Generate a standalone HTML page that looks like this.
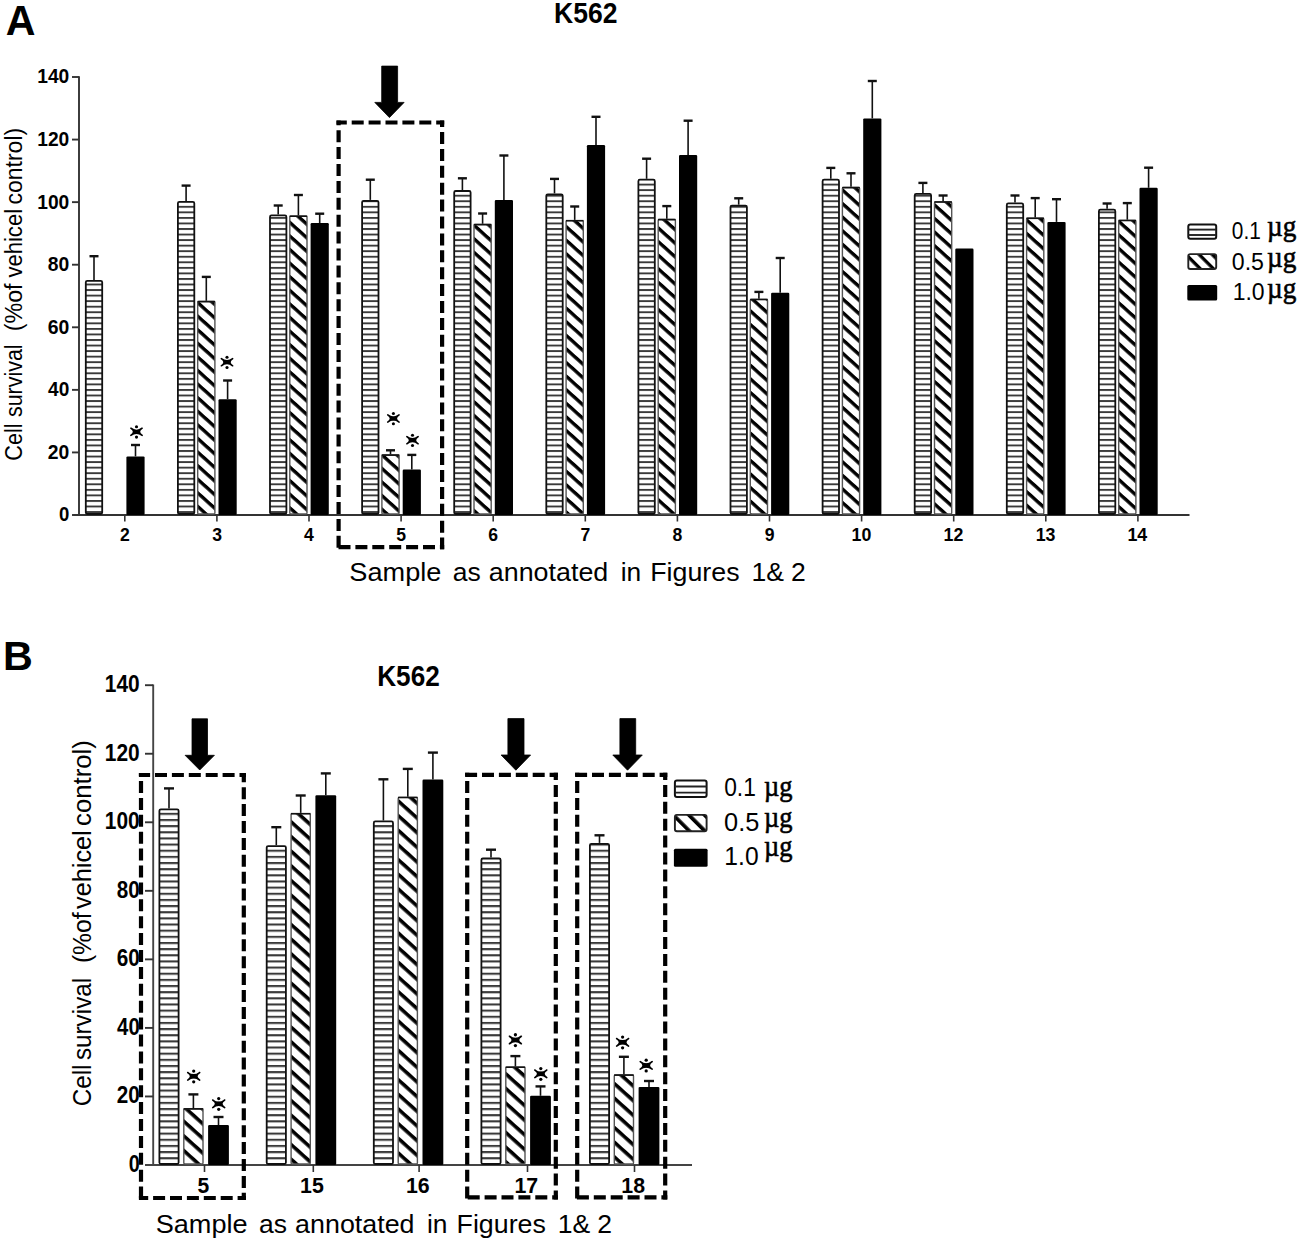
<!DOCTYPE html><html><head><meta charset="utf-8"><style>html,body{margin:0;padding:0;background:#fff;overflow:hidden;}svg{display:block;}text{font-family:"Liberation Sans",sans-serif;fill:#000;white-space:pre;}</style></head><body>
<svg width="1300" height="1243" viewBox="0 0 1300 1243">
<defs>
<pattern id="sA" patternUnits="userSpaceOnUse" width="40" height="5.55" y="0.5"><rect width="40" height="5.55" fill="#fff"/><rect y="0" width="40" height="1.9" fill="#3a3a3a"/></pattern>
<pattern id="sB" patternUnits="userSpaceOnUse" width="40" height="6.15" y="1"><rect width="40" height="6.15" fill="#fff"/><rect y="0" width="40" height="2.1" fill="#3a3a3a"/></pattern>
<pattern id="hA" patternUnits="userSpaceOnUse" width="40" height="10.1" patternTransform="rotate(42)"><rect width="40" height="10.1" fill="#fff"/><rect y="0" width="40" height="3.4" fill="#000"/></pattern>
<pattern id="hB" patternUnits="userSpaceOnUse" width="40" height="10.9" patternTransform="rotate(42)"><rect width="40" height="10.9" fill="#fff"/><rect y="0" width="40" height="3.6" fill="#000"/></pattern>
<pattern id="hLA" patternUnits="userSpaceOnUse" width="60" height="9.3" patternTransform="rotate(45)"><rect width="60" height="9.3" fill="#fff"/><rect y="0.0" width="60" height="3.3" fill="#000"/></pattern>
<pattern id="hLB" patternUnits="userSpaceOnUse" width="60" height="11" patternTransform="rotate(45)"><rect width="60" height="11" fill="#fff"/><rect y="-0.7" width="60" height="3.7" fill="#000"/><rect y="10.3" width="60" height="3.7" fill="#000"/></pattern>
</defs>
<rect width="1300" height="1243" fill="#fff"/>
<text x="5.78" y="35.30" font-size="42" font-weight="bold" textLength="29.74" lengthAdjust="spacingAndGlyphs">A</text>
<text x="554.08" y="23.00" font-size="29.5" font-weight="bold" textLength="63.38" lengthAdjust="spacingAndGlyphs">K562</text>
<line x1="79.00" y1="76.20" x2="79.00" y2="515.80" stroke="#333" stroke-width="1.9" />
<line x1="72.00" y1="515.00" x2="79.00" y2="515.00" stroke="#333" stroke-width="1.9" />
<text x="58.95" y="521.40" font-size="21" font-weight="bold" textLength="10.32" lengthAdjust="spacingAndGlyphs">0</text>
<line x1="72.00" y1="452.43" x2="79.00" y2="452.43" stroke="#333" stroke-width="1.9" />
<text x="47.82" y="458.83" font-size="21" font-weight="bold" textLength="21.48" lengthAdjust="spacingAndGlyphs">20</text>
<line x1="72.00" y1="389.86" x2="79.00" y2="389.86" stroke="#333" stroke-width="1.9" />
<text x="48.11" y="396.26" font-size="21" font-weight="bold" textLength="21.17" lengthAdjust="spacingAndGlyphs">40</text>
<line x1="72.00" y1="327.29" x2="79.00" y2="327.29" stroke="#333" stroke-width="1.9" />
<text x="47.72" y="333.69" font-size="21" font-weight="bold" textLength="21.58" lengthAdjust="spacingAndGlyphs">60</text>
<line x1="72.00" y1="264.71" x2="79.00" y2="264.71" stroke="#333" stroke-width="1.9" />
<text x="47.82" y="271.11" font-size="21" font-weight="bold" textLength="21.48" lengthAdjust="spacingAndGlyphs">80</text>
<line x1="72.00" y1="202.14" x2="79.00" y2="202.14" stroke="#333" stroke-width="1.9" />
<text x="37.25" y="208.54" font-size="21" font-weight="bold" textLength="32.05" lengthAdjust="spacingAndGlyphs">100</text>
<line x1="72.00" y1="139.57" x2="79.00" y2="139.57" stroke="#333" stroke-width="1.9" />
<text x="37.25" y="145.97" font-size="21" font-weight="bold" textLength="32.05" lengthAdjust="spacingAndGlyphs">120</text>
<line x1="72.00" y1="77.00" x2="79.00" y2="77.00" stroke="#333" stroke-width="1.9" />
<text x="37.25" y="83.40" font-size="21" font-weight="bold" textLength="32.05" lengthAdjust="spacingAndGlyphs">140</text>
<line x1="73.50" y1="515.00" x2="1189.50" y2="515.00" stroke="#333" stroke-width="1.9" />
<line x1="124.80" y1="515.00" x2="124.80" y2="521.50" stroke="#333" stroke-width="1.6" />
<text x="119.96" y="540.50" font-size="18" font-weight="bold" textLength="9.78" lengthAdjust="spacingAndGlyphs">2</text>
<line x1="216.90" y1="515.00" x2="216.90" y2="521.50" stroke="#333" stroke-width="1.6" />
<text x="212.15" y="540.50" font-size="18" font-weight="bold" textLength="9.79" lengthAdjust="spacingAndGlyphs">3</text>
<line x1="309.00" y1="515.00" x2="309.00" y2="521.50" stroke="#333" stroke-width="1.6" />
<text x="303.98" y="540.50" font-size="18" font-weight="bold" textLength="9.80" lengthAdjust="spacingAndGlyphs">4</text>
<line x1="401.10" y1="515.00" x2="401.10" y2="521.50" stroke="#333" stroke-width="1.6" />
<text x="396.17" y="540.50" font-size="18" font-weight="bold" textLength="9.79" lengthAdjust="spacingAndGlyphs">5</text>
<line x1="493.20" y1="515.00" x2="493.20" y2="521.50" stroke="#333" stroke-width="1.6" />
<text x="488.32" y="540.50" font-size="18" font-weight="bold" textLength="9.78" lengthAdjust="spacingAndGlyphs">6</text>
<line x1="585.30" y1="515.00" x2="585.30" y2="521.50" stroke="#333" stroke-width="1.6" />
<text x="580.42" y="540.50" font-size="18" font-weight="bold" textLength="9.78" lengthAdjust="spacingAndGlyphs">7</text>
<line x1="677.40" y1="515.00" x2="677.40" y2="521.50" stroke="#333" stroke-width="1.6" />
<text x="672.47" y="540.50" font-size="18" font-weight="bold" textLength="9.79" lengthAdjust="spacingAndGlyphs">8</text>
<line x1="769.50" y1="515.00" x2="769.50" y2="521.50" stroke="#333" stroke-width="1.6" />
<text x="764.66" y="540.50" font-size="18" font-weight="bold" textLength="9.78" lengthAdjust="spacingAndGlyphs">9</text>
<line x1="861.60" y1="515.00" x2="861.60" y2="521.50" stroke="#333" stroke-width="1.6" />
<text x="851.49" y="540.50" font-size="18" font-weight="bold" textLength="19.80" lengthAdjust="spacingAndGlyphs">10</text>
<line x1="953.70" y1="515.00" x2="953.70" y2="521.50" stroke="#333" stroke-width="1.6" />
<text x="943.59" y="540.50" font-size="18" font-weight="bold" textLength="19.80" lengthAdjust="spacingAndGlyphs">12</text>
<line x1="1045.80" y1="515.00" x2="1045.80" y2="521.50" stroke="#333" stroke-width="1.6" />
<text x="1035.69" y="540.50" font-size="18" font-weight="bold" textLength="19.80" lengthAdjust="spacingAndGlyphs">13</text>
<line x1="1137.90" y1="515.00" x2="1137.90" y2="521.50" stroke="#333" stroke-width="1.6" />
<text x="1127.47" y="540.50" font-size="18" font-weight="bold" textLength="19.81" lengthAdjust="spacingAndGlyphs">14</text>
<rect x="85.80" y="280.80" width="16.40" height="233.20" fill="url(#sA)" stroke="#111" stroke-width="1.8" rx="1.5"/>
<line x1="94.00" y1="279.90" x2="94.00" y2="255.90" stroke="#111" stroke-width="1.6" />
<line x1="89.50" y1="256.20" x2="98.50" y2="256.20" stroke="#111" stroke-width="2.4" />
<rect x="126.40" y="456.40" width="18.20" height="58.60" fill="#000" rx="1.2"/>
<line x1="135.50" y1="456.40" x2="135.50" y2="444.70" stroke="#111" stroke-width="1.6" />
<line x1="131.00" y1="445.00" x2="140.00" y2="445.00" stroke="#111" stroke-width="2.4" />
<rect x="177.90" y="201.80" width="16.40" height="312.20" fill="url(#sA)" stroke="#111" stroke-width="1.8" rx="1.5"/>
<line x1="186.10" y1="200.90" x2="186.10" y2="185.30" stroke="#111" stroke-width="1.6" />
<line x1="181.60" y1="185.60" x2="190.60" y2="185.60" stroke="#111" stroke-width="2.4" />
<rect x="197.70" y="301.50" width="17.20" height="212.50" fill="url(#hA)" stroke="#555" stroke-width="1.4" rx="1"/>
<line x1="197.50" y1="301.60" x2="215.10" y2="301.60" stroke="#111" stroke-width="1.6"/>
<line x1="206.30" y1="300.80" x2="206.30" y2="276.60" stroke="#111" stroke-width="1.6" />
<line x1="201.80" y1="276.90" x2="210.80" y2="276.90" stroke="#111" stroke-width="2.4" />
<rect x="218.50" y="399.20" width="18.20" height="115.80" fill="#000" rx="1.2"/>
<line x1="227.60" y1="399.20" x2="227.60" y2="380.20" stroke="#111" stroke-width="1.6" />
<line x1="223.10" y1="380.50" x2="232.10" y2="380.50" stroke="#111" stroke-width="2.4" />
<rect x="270.00" y="215.40" width="16.40" height="298.60" fill="url(#sA)" stroke="#111" stroke-width="1.8" rx="1.5"/>
<line x1="278.20" y1="214.50" x2="278.20" y2="205.20" stroke="#111" stroke-width="1.6" />
<line x1="273.70" y1="205.50" x2="282.70" y2="205.50" stroke="#111" stroke-width="2.4" />
<rect x="289.80" y="216.10" width="17.20" height="297.90" fill="url(#hA)" stroke="#555" stroke-width="1.4" rx="1"/>
<line x1="289.60" y1="216.20" x2="307.20" y2="216.20" stroke="#111" stroke-width="1.6"/>
<line x1="298.40" y1="215.40" x2="298.40" y2="194.70" stroke="#111" stroke-width="1.6" />
<line x1="293.90" y1="195.00" x2="302.90" y2="195.00" stroke="#111" stroke-width="2.4" />
<rect x="310.60" y="223.00" width="18.20" height="292.00" fill="#000" rx="1.2"/>
<line x1="319.70" y1="223.00" x2="319.70" y2="213.40" stroke="#111" stroke-width="1.6" />
<line x1="315.20" y1="213.70" x2="324.20" y2="213.70" stroke="#111" stroke-width="2.4" />
<rect x="362.10" y="200.80" width="16.40" height="313.20" fill="url(#sA)" stroke="#111" stroke-width="1.8" rx="1.5"/>
<line x1="370.30" y1="199.90" x2="370.30" y2="179.40" stroke="#111" stroke-width="1.6" />
<line x1="365.80" y1="179.70" x2="374.80" y2="179.70" stroke="#111" stroke-width="2.4" />
<rect x="381.90" y="455.00" width="17.20" height="59.00" fill="url(#hA)" stroke="#555" stroke-width="1.4" rx="1"/>
<line x1="381.70" y1="455.10" x2="399.30" y2="455.10" stroke="#111" stroke-width="1.6"/>
<line x1="390.50" y1="454.30" x2="390.50" y2="450.00" stroke="#111" stroke-width="1.6" />
<line x1="386.00" y1="450.30" x2="395.00" y2="450.30" stroke="#111" stroke-width="2.4" />
<rect x="402.70" y="469.50" width="18.20" height="45.50" fill="#000" rx="1.2"/>
<line x1="411.80" y1="469.50" x2="411.80" y2="454.60" stroke="#111" stroke-width="1.6" />
<line x1="407.30" y1="454.90" x2="416.30" y2="454.90" stroke="#111" stroke-width="2.4" />
<rect x="454.20" y="191.00" width="16.40" height="323.00" fill="url(#sA)" stroke="#111" stroke-width="1.8" rx="1.5"/>
<line x1="462.40" y1="190.10" x2="462.40" y2="178.00" stroke="#111" stroke-width="1.6" />
<line x1="457.90" y1="178.30" x2="466.90" y2="178.30" stroke="#111" stroke-width="2.4" />
<rect x="474.00" y="224.50" width="17.20" height="289.50" fill="url(#hA)" stroke="#555" stroke-width="1.4" rx="1"/>
<line x1="473.80" y1="224.60" x2="491.40" y2="224.60" stroke="#111" stroke-width="1.6"/>
<line x1="482.60" y1="223.80" x2="482.60" y2="213.20" stroke="#111" stroke-width="1.6" />
<line x1="478.10" y1="213.50" x2="487.10" y2="213.50" stroke="#111" stroke-width="2.4" />
<rect x="494.80" y="199.90" width="18.20" height="315.10" fill="#000" rx="1.2"/>
<line x1="503.90" y1="199.90" x2="503.90" y2="155.20" stroke="#111" stroke-width="1.6" />
<line x1="499.40" y1="155.50" x2="508.40" y2="155.50" stroke="#111" stroke-width="2.4" />
<rect x="546.30" y="194.30" width="16.40" height="319.70" fill="url(#sA)" stroke="#111" stroke-width="1.8" rx="1.5"/>
<line x1="554.50" y1="193.40" x2="554.50" y2="178.60" stroke="#111" stroke-width="1.6" />
<line x1="550.00" y1="178.90" x2="559.00" y2="178.90" stroke="#111" stroke-width="2.4" />
<rect x="566.10" y="220.60" width="17.20" height="293.40" fill="url(#hA)" stroke="#555" stroke-width="1.4" rx="1"/>
<line x1="565.90" y1="220.70" x2="583.50" y2="220.70" stroke="#111" stroke-width="1.6"/>
<line x1="574.70" y1="219.90" x2="574.70" y2="206.20" stroke="#111" stroke-width="1.6" />
<line x1="570.20" y1="206.50" x2="579.20" y2="206.50" stroke="#111" stroke-width="2.4" />
<rect x="586.90" y="145.10" width="18.20" height="369.90" fill="#000" rx="1.2"/>
<line x1="596.00" y1="145.10" x2="596.00" y2="116.50" stroke="#111" stroke-width="1.6" />
<line x1="591.50" y1="116.80" x2="600.50" y2="116.80" stroke="#111" stroke-width="2.4" />
<rect x="638.40" y="179.70" width="16.40" height="334.30" fill="url(#sA)" stroke="#111" stroke-width="1.8" rx="1.5"/>
<line x1="646.60" y1="178.80" x2="646.60" y2="158.40" stroke="#111" stroke-width="1.6" />
<line x1="642.10" y1="158.70" x2="651.10" y2="158.70" stroke="#111" stroke-width="2.4" />
<rect x="658.20" y="219.50" width="17.20" height="294.50" fill="url(#hA)" stroke="#555" stroke-width="1.4" rx="1"/>
<line x1="658.00" y1="219.60" x2="675.60" y2="219.60" stroke="#111" stroke-width="1.6"/>
<line x1="666.80" y1="218.80" x2="666.80" y2="205.80" stroke="#111" stroke-width="1.6" />
<line x1="662.30" y1="206.10" x2="671.30" y2="206.10" stroke="#111" stroke-width="2.4" />
<rect x="679.00" y="154.90" width="18.20" height="360.10" fill="#000" rx="1.2"/>
<line x1="688.10" y1="154.90" x2="688.10" y2="120.40" stroke="#111" stroke-width="1.6" />
<line x1="683.60" y1="120.70" x2="692.60" y2="120.70" stroke="#111" stroke-width="2.4" />
<rect x="730.50" y="205.60" width="16.40" height="308.40" fill="url(#sA)" stroke="#111" stroke-width="1.8" rx="1.5"/>
<line x1="738.70" y1="204.70" x2="738.70" y2="198.00" stroke="#111" stroke-width="1.6" />
<line x1="734.20" y1="198.30" x2="743.20" y2="198.30" stroke="#111" stroke-width="2.4" />
<rect x="750.30" y="299.40" width="17.20" height="214.60" fill="url(#hA)" stroke="#555" stroke-width="1.4" rx="1"/>
<line x1="750.10" y1="299.50" x2="767.70" y2="299.50" stroke="#111" stroke-width="1.6"/>
<line x1="758.90" y1="298.70" x2="758.90" y2="291.60" stroke="#111" stroke-width="1.6" />
<line x1="754.40" y1="291.90" x2="763.40" y2="291.90" stroke="#111" stroke-width="2.4" />
<rect x="771.10" y="292.80" width="18.20" height="222.20" fill="#000" rx="1.2"/>
<line x1="780.20" y1="292.80" x2="780.20" y2="257.70" stroke="#111" stroke-width="1.6" />
<line x1="775.70" y1="258.00" x2="784.70" y2="258.00" stroke="#111" stroke-width="2.4" />
<rect x="822.60" y="179.70" width="16.40" height="334.30" fill="url(#sA)" stroke="#111" stroke-width="1.8" rx="1.5"/>
<line x1="830.80" y1="178.80" x2="830.80" y2="167.60" stroke="#111" stroke-width="1.6" />
<line x1="826.30" y1="167.90" x2="835.30" y2="167.90" stroke="#111" stroke-width="2.4" />
<rect x="842.40" y="187.50" width="17.20" height="326.50" fill="url(#hA)" stroke="#555" stroke-width="1.4" rx="1"/>
<line x1="842.20" y1="187.60" x2="859.80" y2="187.60" stroke="#111" stroke-width="1.6"/>
<line x1="851.00" y1="186.80" x2="851.00" y2="173.00" stroke="#111" stroke-width="1.6" />
<line x1="846.50" y1="173.30" x2="855.50" y2="173.30" stroke="#111" stroke-width="2.4" />
<rect x="863.20" y="118.40" width="18.20" height="396.60" fill="#000" rx="1.2"/>
<line x1="872.30" y1="118.40" x2="872.30" y2="80.70" stroke="#111" stroke-width="1.6" />
<line x1="867.80" y1="81.00" x2="876.80" y2="81.00" stroke="#111" stroke-width="2.4" />
<rect x="914.70" y="193.90" width="16.40" height="320.10" fill="url(#sA)" stroke="#111" stroke-width="1.8" rx="1.5"/>
<line x1="922.90" y1="193.00" x2="922.90" y2="182.60" stroke="#111" stroke-width="1.6" />
<line x1="918.40" y1="182.90" x2="927.40" y2="182.90" stroke="#111" stroke-width="2.4" />
<rect x="934.50" y="201.90" width="17.20" height="312.10" fill="url(#hA)" stroke="#555" stroke-width="1.4" rx="1"/>
<line x1="934.30" y1="202.00" x2="951.90" y2="202.00" stroke="#111" stroke-width="1.6"/>
<line x1="943.10" y1="201.20" x2="943.10" y2="195.20" stroke="#111" stroke-width="1.6" />
<line x1="938.60" y1="195.50" x2="947.60" y2="195.50" stroke="#111" stroke-width="2.4" />
<rect x="955.30" y="248.60" width="18.20" height="266.40" fill="#000" rx="1.2"/>
<rect x="1006.80" y="203.40" width="16.40" height="310.60" fill="url(#sA)" stroke="#111" stroke-width="1.8" rx="1.5"/>
<line x1="1015.00" y1="202.50" x2="1015.00" y2="195.20" stroke="#111" stroke-width="1.6" />
<line x1="1010.50" y1="195.50" x2="1019.50" y2="195.50" stroke="#111" stroke-width="2.4" />
<rect x="1026.60" y="218.20" width="17.20" height="295.80" fill="url(#hA)" stroke="#555" stroke-width="1.4" rx="1"/>
<line x1="1026.40" y1="218.30" x2="1044.00" y2="218.30" stroke="#111" stroke-width="1.6"/>
<line x1="1035.20" y1="217.50" x2="1035.20" y2="197.80" stroke="#111" stroke-width="1.6" />
<line x1="1030.70" y1="198.10" x2="1039.70" y2="198.10" stroke="#111" stroke-width="2.4" />
<rect x="1047.40" y="221.90" width="18.20" height="293.10" fill="#000" rx="1.2"/>
<line x1="1056.50" y1="221.90" x2="1056.50" y2="198.90" stroke="#111" stroke-width="1.6" />
<line x1="1052.00" y1="199.20" x2="1061.00" y2="199.20" stroke="#111" stroke-width="2.4" />
<rect x="1098.90" y="209.70" width="16.40" height="304.30" fill="url(#sA)" stroke="#111" stroke-width="1.8" rx="1.5"/>
<line x1="1107.10" y1="208.80" x2="1107.10" y2="203.20" stroke="#111" stroke-width="1.6" />
<line x1="1102.60" y1="203.50" x2="1111.60" y2="203.50" stroke="#111" stroke-width="2.4" />
<rect x="1118.70" y="220.40" width="17.20" height="293.60" fill="url(#hA)" stroke="#555" stroke-width="1.4" rx="1"/>
<line x1="1118.50" y1="220.50" x2="1136.10" y2="220.50" stroke="#111" stroke-width="1.6"/>
<line x1="1127.30" y1="219.70" x2="1127.30" y2="202.80" stroke="#111" stroke-width="1.6" />
<line x1="1122.80" y1="203.10" x2="1131.80" y2="203.10" stroke="#111" stroke-width="2.4" />
<rect x="1139.50" y="187.80" width="18.20" height="327.20" fill="#000" rx="1.2"/>
<line x1="1148.60" y1="187.80" x2="1148.60" y2="167.40" stroke="#111" stroke-width="1.6" />
<line x1="1144.10" y1="167.70" x2="1153.10" y2="167.70" stroke="#111" stroke-width="2.4" />
<path d="M130.80,428.20 Q136.50,432.70 142.20,428.20 Q136.70,431.80 142.20,435.40 Q136.50,430.90 130.80,435.40 Q136.30,431.80 130.80,428.20 Z" fill="#000" stroke="#000" stroke-width="1.50" stroke-linejoin="round"/>
<ellipse cx="136.50" cy="431.80" rx="3.00" ry="1.90" fill="#000"/>
<circle cx="136.50" cy="426.80" r="1.55" fill="#000"/>
<circle cx="136.50" cy="437.10" r="1.55" fill="#000"/>
<path d="M221.30,358.60 Q227.00,363.10 232.70,358.60 Q227.20,362.20 232.70,365.80 Q227.00,361.30 221.30,365.80 Q226.80,362.20 221.30,358.60 Z" fill="#000" stroke="#000" stroke-width="1.50" stroke-linejoin="round"/>
<ellipse cx="227.00" cy="362.20" rx="3.00" ry="1.90" fill="#000"/>
<circle cx="227.00" cy="357.20" r="1.55" fill="#000"/>
<circle cx="227.00" cy="367.50" r="1.55" fill="#000"/>
<path d="M387.70,414.90 Q393.40,419.40 399.10,414.90 Q393.60,418.50 399.10,422.10 Q393.40,417.60 387.70,422.10 Q393.20,418.50 387.70,414.90 Z" fill="#000" stroke="#000" stroke-width="1.50" stroke-linejoin="round"/>
<ellipse cx="393.40" cy="418.50" rx="3.00" ry="1.90" fill="#000"/>
<circle cx="393.40" cy="413.50" r="1.55" fill="#000"/>
<circle cx="393.40" cy="423.80" r="1.55" fill="#000"/>
<path d="M406.80,436.60 Q412.50,441.10 418.20,436.60 Q412.70,440.20 418.20,443.80 Q412.50,439.30 406.80,443.80 Q412.30,440.20 406.80,436.60 Z" fill="#000" stroke="#000" stroke-width="1.50" stroke-linejoin="round"/>
<ellipse cx="412.50" cy="440.20" rx="3.00" ry="1.90" fill="#000"/>
<circle cx="412.50" cy="435.20" r="1.55" fill="#000"/>
<circle cx="412.50" cy="445.50" r="1.55" fill="#000"/>
<line x1="336.50" y1="122.50" x2="444.20" y2="122.50" stroke="#000" stroke-width="4.2" stroke-dasharray="12.0 4.9" stroke-dashoffset="1.70"/>
<line x1="442.10" y1="120.40" x2="442.10" y2="549.30" stroke="#000" stroke-width="4.2" stroke-dasharray="12.0 4.9" stroke-dashoffset="5.30"/>
<line x1="336.50" y1="547.20" x2="444.20" y2="547.20" stroke="#000" stroke-width="4.2" stroke-dasharray="12.0 4.9" stroke-dashoffset="14.90"/>
<line x1="338.60" y1="120.40" x2="338.60" y2="549.30" stroke="#000" stroke-width="4.2" stroke-dasharray="12.0 4.9" stroke-dashoffset="7.10"/>
<path d="M381.70,66.10 L397.60,66.10 L397.60,102.40 L404.10,102.40 L389.45,117.60 L374.80,102.40 L381.70,102.40 Z" fill="#000" stroke="#000" stroke-width="0.8" stroke-linejoin="round"/>
<rect x="1188.30" y="224.40" width="27.90" height="14.40" fill="#fff" stroke="#111" stroke-width="2" rx="2"/>
<line x1="1188.30" y1="229.60" x2="1216.20" y2="229.60" stroke="#222" stroke-width="1.9" />
<line x1="1188.30" y1="235.00" x2="1216.20" y2="235.00" stroke="#222" stroke-width="1.9" />
<rect x="1188.30" y="254.10" width="27.90" height="14.90" fill="url(#hLA)" stroke="#222" stroke-width="1.9" rx="2"/>
<rect x="1187.30" y="285.00" width="29.90" height="15.50" fill="#000" rx="1.5"/>
<text x="1231.87" y="238.50" font-size="24" font-weight="normal" textLength="28.99" lengthAdjust="spacingAndGlyphs">0.1</text>
<text x="1231.79" y="270.30" font-size="24" font-weight="normal" textLength="32.16" lengthAdjust="spacingAndGlyphs">0.5</text>
<text x="1232.68" y="300.00" font-size="24" font-weight="normal" textLength="31.96" lengthAdjust="spacingAndGlyphs">1.0</text>
<text x="1267.08" y="235.80" font-size="29.5" font-weight="normal" textLength="29.33" lengthAdjust="spacingAndGlyphs" style="font-family:&quot;Liberation Serif&quot;,serif" stroke="#000" stroke-width="0.6">µg</text>
<text x="1267.08" y="267.00" font-size="29.5" font-weight="normal" textLength="29.33" lengthAdjust="spacingAndGlyphs" style="font-family:&quot;Liberation Serif&quot;,serif" stroke="#000" stroke-width="0.6">µg</text>
<text x="1267.08" y="298.20" font-size="29.5" font-weight="normal" textLength="29.33" lengthAdjust="spacingAndGlyphs" style="font-family:&quot;Liberation Serif&quot;,serif" stroke="#000" stroke-width="0.6">µg</text>
<text x="349.38" y="580.80" font-size="26" font-weight="normal" textLength="91.94" lengthAdjust="spacingAndGlyphs">Sample</text>
<text x="452.84" y="580.80" font-size="26" font-weight="normal" textLength="27.99" lengthAdjust="spacingAndGlyphs">as</text>
<text x="488.83" y="580.80" font-size="26" font-weight="normal" textLength="119.42" lengthAdjust="spacingAndGlyphs">annotated</text>
<text x="620.69" y="580.80" font-size="26" font-weight="normal" textLength="20.53" lengthAdjust="spacingAndGlyphs">in</text>
<text x="650.26" y="580.80" font-size="26" font-weight="normal" textLength="89.28" lengthAdjust="spacingAndGlyphs">Figures</text>
<text x="751.41" y="580.80" font-size="26" font-weight="normal" textLength="32.51" lengthAdjust="spacingAndGlyphs">1&amp;</text>
<text x="791.07" y="580.80" font-size="26" font-weight="normal" textLength="14.75" lengthAdjust="spacingAndGlyphs">2</text>
<text transform="translate(21.80,460.68) rotate(-90)" font-size="23" font-weight="normal" textLength="37.22" lengthAdjust="spacingAndGlyphs">Cell</text>
<text transform="translate(21.80,417.04) rotate(-90)" font-size="23" font-weight="normal" textLength="72.67" lengthAdjust="spacingAndGlyphs">survival</text>
<text transform="translate(21.80,331.30) rotate(-90)" font-size="23" font-weight="normal" textLength="47.85" lengthAdjust="spacingAndGlyphs">(%of</text>
<text transform="translate(21.80,277.60) rotate(-90)" font-size="23" font-weight="normal" textLength="68.67" lengthAdjust="spacingAndGlyphs">vehicel</text>
<text transform="translate(21.80,204.62) rotate(-90)" font-size="23" font-weight="normal" textLength="76.86" lengthAdjust="spacingAndGlyphs">control)</text>
<text x="2.92" y="670.30" font-size="40" font-weight="bold" textLength="29.83" lengthAdjust="spacingAndGlyphs">B</text>
<text x="377.20" y="686.40" font-size="29.5" font-weight="bold" textLength="62.55" lengthAdjust="spacingAndGlyphs">K562</text>
<line x1="153.20" y1="684.40" x2="153.20" y2="1165.80" stroke="#444" stroke-width="1.9" />
<line x1="145.00" y1="1165.00" x2="153.20" y2="1165.00" stroke="#333" stroke-width="1.9" />
<text x="128.71" y="1171.90" font-size="23.2" font-weight="bold" textLength="11.01" lengthAdjust="spacingAndGlyphs">0</text>
<line x1="145.00" y1="1096.46" x2="153.20" y2="1096.46" stroke="#333" stroke-width="1.9" />
<text x="116.78" y="1103.36" font-size="23.2" font-weight="bold" textLength="22.97" lengthAdjust="spacingAndGlyphs">20</text>
<line x1="145.00" y1="1027.91" x2="153.20" y2="1027.91" stroke="#333" stroke-width="1.9" />
<text x="117.09" y="1034.81" font-size="23.2" font-weight="bold" textLength="22.64" lengthAdjust="spacingAndGlyphs">40</text>
<line x1="145.00" y1="959.37" x2="153.20" y2="959.37" stroke="#333" stroke-width="1.9" />
<text x="116.67" y="966.27" font-size="23.2" font-weight="bold" textLength="23.08" lengthAdjust="spacingAndGlyphs">60</text>
<line x1="145.00" y1="890.83" x2="153.20" y2="890.83" stroke="#333" stroke-width="1.9" />
<text x="116.78" y="897.73" font-size="23.2" font-weight="bold" textLength="22.97" lengthAdjust="spacingAndGlyphs">80</text>
<line x1="145.00" y1="822.29" x2="153.20" y2="822.29" stroke="#333" stroke-width="1.9" />
<text x="104.84" y="829.19" font-size="23.2" font-weight="bold" textLength="34.91" lengthAdjust="spacingAndGlyphs">100</text>
<line x1="145.00" y1="753.74" x2="153.20" y2="753.74" stroke="#333" stroke-width="1.9" />
<text x="104.84" y="760.64" font-size="23.2" font-weight="bold" textLength="34.91" lengthAdjust="spacingAndGlyphs">120</text>
<line x1="145.00" y1="685.20" x2="153.20" y2="685.20" stroke="#333" stroke-width="1.9" />
<text x="104.84" y="692.10" font-size="23.2" font-weight="bold" textLength="34.91" lengthAdjust="spacingAndGlyphs">140</text>
<line x1="145.00" y1="1165.00" x2="692.00" y2="1165.00" stroke="#444" stroke-width="1.9" />
<line x1="204.50" y1="1165.00" x2="204.50" y2="1172.00" stroke="#333" stroke-width="1.6" />
<text x="197.59" y="1193.10" font-size="21.5" font-weight="bold" textLength="11.73" lengthAdjust="spacingAndGlyphs">5</text>
<line x1="313.30" y1="1165.00" x2="313.30" y2="1172.00" stroke="#333" stroke-width="1.6" />
<text x="300.09" y="1193.10" font-size="21.5" font-weight="bold" textLength="23.70" lengthAdjust="spacingAndGlyphs">15</text>
<line x1="419.10" y1="1165.00" x2="419.10" y2="1172.00" stroke="#333" stroke-width="1.6" />
<text x="406.00" y="1193.10" font-size="21.5" font-weight="bold" textLength="23.70" lengthAdjust="spacingAndGlyphs">16</text>
<line x1="527.50" y1="1165.00" x2="527.50" y2="1172.00" stroke="#333" stroke-width="1.6" />
<text x="514.45" y="1193.10" font-size="21.5" font-weight="bold" textLength="23.69" lengthAdjust="spacingAndGlyphs">17</text>
<line x1="634.50" y1="1165.00" x2="634.50" y2="1172.00" stroke="#333" stroke-width="1.6" />
<text x="621.29" y="1193.10" font-size="21.5" font-weight="bold" textLength="23.70" lengthAdjust="spacingAndGlyphs">18</text>
<rect x="159.40" y="809.30" width="19.20" height="354.70" fill="url(#sB)" stroke="#111" stroke-width="1.8" rx="1.5"/>
<line x1="169.00" y1="808.40" x2="169.00" y2="788.10" stroke="#111" stroke-width="1.6" />
<line x1="164.00" y1="788.40" x2="174.00" y2="788.40" stroke="#111" stroke-width="2.4" />
<rect x="183.80" y="1108.80" width="19.20" height="55.20" fill="url(#hB)" stroke="#555" stroke-width="1.4" rx="1"/>
<line x1="183.60" y1="1108.90" x2="203.20" y2="1108.90" stroke="#111" stroke-width="1.6"/>
<line x1="193.40" y1="1108.10" x2="193.40" y2="1094.10" stroke="#111" stroke-width="1.6" />
<line x1="188.40" y1="1094.40" x2="198.40" y2="1094.40" stroke="#111" stroke-width="2.4" />
<rect x="208.10" y="1125.00" width="20.80" height="40.00" fill="#000" rx="1.2"/>
<line x1="218.50" y1="1125.00" x2="218.50" y2="1116.70" stroke="#111" stroke-width="1.6" />
<line x1="213.50" y1="1117.00" x2="223.50" y2="1117.00" stroke="#111" stroke-width="2.4" />
<rect x="266.70" y="846.10" width="19.20" height="317.90" fill="url(#sB)" stroke="#111" stroke-width="1.8" rx="1.5"/>
<line x1="276.30" y1="845.20" x2="276.30" y2="826.90" stroke="#111" stroke-width="1.6" />
<line x1="271.30" y1="827.20" x2="281.30" y2="827.20" stroke="#111" stroke-width="2.4" />
<rect x="291.10" y="813.60" width="19.20" height="350.40" fill="url(#hB)" stroke="#555" stroke-width="1.4" rx="1"/>
<line x1="290.90" y1="813.70" x2="310.50" y2="813.70" stroke="#111" stroke-width="1.6"/>
<line x1="300.70" y1="812.90" x2="300.70" y2="795.20" stroke="#111" stroke-width="1.6" />
<line x1="295.70" y1="795.50" x2="305.70" y2="795.50" stroke="#111" stroke-width="2.4" />
<rect x="315.40" y="795.20" width="20.80" height="369.80" fill="#000" rx="1.2"/>
<line x1="325.80" y1="795.20" x2="325.80" y2="773.10" stroke="#111" stroke-width="1.6" />
<line x1="320.80" y1="773.40" x2="330.80" y2="773.40" stroke="#111" stroke-width="2.4" />
<rect x="373.80" y="821.40" width="19.20" height="342.60" fill="url(#sB)" stroke="#111" stroke-width="1.8" rx="1.5"/>
<line x1="383.40" y1="820.50" x2="383.40" y2="779.00" stroke="#111" stroke-width="1.6" />
<line x1="378.40" y1="779.30" x2="388.40" y2="779.30" stroke="#111" stroke-width="2.4" />
<rect x="398.20" y="797.40" width="19.20" height="366.60" fill="url(#hB)" stroke="#555" stroke-width="1.4" rx="1"/>
<line x1="398.00" y1="797.50" x2="417.60" y2="797.50" stroke="#111" stroke-width="1.6"/>
<line x1="407.80" y1="796.70" x2="407.80" y2="768.60" stroke="#111" stroke-width="1.6" />
<line x1="402.80" y1="768.90" x2="412.80" y2="768.90" stroke="#111" stroke-width="2.4" />
<rect x="422.50" y="779.50" width="20.80" height="385.50" fill="#000" rx="1.2"/>
<line x1="432.90" y1="779.50" x2="432.90" y2="752.30" stroke="#111" stroke-width="1.6" />
<line x1="427.90" y1="752.60" x2="437.90" y2="752.60" stroke="#111" stroke-width="2.4" />
<rect x="481.40" y="858.50" width="19.20" height="305.50" fill="url(#sB)" stroke="#111" stroke-width="1.8" rx="1.5"/>
<line x1="491.00" y1="857.60" x2="491.00" y2="849.40" stroke="#111" stroke-width="1.6" />
<line x1="486.00" y1="849.70" x2="496.00" y2="849.70" stroke="#111" stroke-width="2.4" />
<rect x="505.80" y="1067.10" width="19.20" height="96.90" fill="url(#hB)" stroke="#555" stroke-width="1.4" rx="1"/>
<line x1="505.60" y1="1067.20" x2="525.20" y2="1067.20" stroke="#111" stroke-width="1.6"/>
<line x1="515.40" y1="1066.40" x2="515.40" y2="1055.80" stroke="#111" stroke-width="1.6" />
<line x1="510.40" y1="1056.10" x2="520.40" y2="1056.10" stroke="#111" stroke-width="2.4" />
<rect x="530.10" y="1095.80" width="20.80" height="69.20" fill="#000" rx="1.2"/>
<line x1="540.50" y1="1095.80" x2="540.50" y2="1086.10" stroke="#111" stroke-width="1.6" />
<line x1="535.50" y1="1086.40" x2="545.50" y2="1086.40" stroke="#111" stroke-width="2.4" />
<rect x="589.90" y="843.80" width="19.20" height="320.20" fill="url(#sB)" stroke="#111" stroke-width="1.8" rx="1.5"/>
<line x1="599.50" y1="842.90" x2="599.50" y2="835.00" stroke="#111" stroke-width="1.6" />
<line x1="594.50" y1="835.30" x2="604.50" y2="835.30" stroke="#111" stroke-width="2.4" />
<rect x="614.30" y="1075.00" width="19.20" height="89.00" fill="url(#hB)" stroke="#555" stroke-width="1.4" rx="1"/>
<line x1="614.10" y1="1075.10" x2="633.70" y2="1075.10" stroke="#111" stroke-width="1.6"/>
<line x1="623.90" y1="1074.30" x2="623.90" y2="1056.50" stroke="#111" stroke-width="1.6" />
<line x1="618.90" y1="1056.80" x2="628.90" y2="1056.80" stroke="#111" stroke-width="2.4" />
<rect x="638.60" y="1086.90" width="20.80" height="78.10" fill="#000" rx="1.2"/>
<line x1="649.00" y1="1086.90" x2="649.00" y2="1080.70" stroke="#111" stroke-width="1.6" />
<line x1="644.00" y1="1081.00" x2="654.00" y2="1081.00" stroke="#111" stroke-width="2.4" />
<path d="M187.71,1072.52 Q193.70,1077.24 199.69,1072.52 Q193.91,1076.30 199.69,1080.08 Q193.70,1075.36 187.71,1080.08 Q193.49,1076.30 187.71,1072.52 Z" fill="#000" stroke="#000" stroke-width="1.58" stroke-linejoin="round"/>
<ellipse cx="193.70" cy="1076.30" rx="3.15" ry="1.99" fill="#000"/>
<circle cx="193.70" cy="1071.05" r="1.63" fill="#000"/>
<circle cx="193.70" cy="1081.87" r="1.63" fill="#000"/>
<path d="M212.71,1100.02 Q218.70,1104.74 224.69,1100.02 Q218.91,1103.80 224.69,1107.58 Q218.70,1102.86 212.71,1107.58 Q218.49,1103.80 212.71,1100.02 Z" fill="#000" stroke="#000" stroke-width="1.58" stroke-linejoin="round"/>
<ellipse cx="218.70" cy="1103.80" rx="3.15" ry="1.99" fill="#000"/>
<circle cx="218.70" cy="1098.55" r="1.63" fill="#000"/>
<circle cx="218.70" cy="1109.37" r="1.63" fill="#000"/>
<path d="M509.41,1036.22 Q515.40,1040.94 521.38,1036.22 Q515.61,1040.00 521.38,1043.78 Q515.40,1039.06 509.41,1043.78 Q515.19,1040.00 509.41,1036.22 Z" fill="#000" stroke="#000" stroke-width="1.58" stroke-linejoin="round"/>
<ellipse cx="515.40" cy="1040.00" rx="3.15" ry="1.99" fill="#000"/>
<circle cx="515.40" cy="1034.75" r="1.63" fill="#000"/>
<circle cx="515.40" cy="1045.57" r="1.63" fill="#000"/>
<path d="M534.81,1070.02 Q540.80,1074.74 546.78,1070.02 Q541.01,1073.80 546.78,1077.58 Q540.80,1072.86 534.81,1077.58 Q540.59,1073.80 534.81,1070.02 Z" fill="#000" stroke="#000" stroke-width="1.58" stroke-linejoin="round"/>
<ellipse cx="540.80" cy="1073.80" rx="3.15" ry="1.99" fill="#000"/>
<circle cx="540.80" cy="1068.55" r="1.63" fill="#000"/>
<circle cx="540.80" cy="1079.37" r="1.63" fill="#000"/>
<path d="M616.62,1038.52 Q622.60,1043.24 628.59,1038.52 Q622.81,1042.30 628.59,1046.08 Q622.60,1041.36 616.62,1046.08 Q622.39,1042.30 616.62,1038.52 Z" fill="#000" stroke="#000" stroke-width="1.58" stroke-linejoin="round"/>
<ellipse cx="622.60" cy="1042.30" rx="3.15" ry="1.99" fill="#000"/>
<circle cx="622.60" cy="1037.05" r="1.63" fill="#000"/>
<circle cx="622.60" cy="1047.87" r="1.63" fill="#000"/>
<path d="M640.22,1061.62 Q646.20,1066.35 652.19,1061.62 Q646.41,1065.40 652.19,1069.18 Q646.20,1064.46 640.22,1069.18 Q645.99,1065.40 640.22,1061.62 Z" fill="#000" stroke="#000" stroke-width="1.58" stroke-linejoin="round"/>
<ellipse cx="646.20" cy="1065.40" rx="3.15" ry="1.99" fill="#000"/>
<circle cx="646.20" cy="1060.15" r="1.63" fill="#000"/>
<circle cx="646.20" cy="1070.97" r="1.63" fill="#000"/>
<line x1="138.90" y1="775.00" x2="245.90" y2="775.00" stroke="#000" stroke-width="4.2" stroke-dasharray="12.0 4.9" stroke-dashoffset="0.80"/>
<line x1="243.80" y1="772.90" x2="243.80" y2="1200.10" stroke="#000" stroke-width="4.2" stroke-dasharray="12.0 4.9" stroke-dashoffset="2.60"/>
<line x1="138.90" y1="1198.00" x2="245.90" y2="1198.00" stroke="#000" stroke-width="4.2" stroke-dasharray="12.0 4.9" stroke-dashoffset="2.70"/>
<line x1="141.00" y1="772.90" x2="141.00" y2="1200.10" stroke="#000" stroke-width="4.2" stroke-dasharray="12.0 4.9" stroke-dashoffset="8.80"/>
<line x1="465.10" y1="774.80" x2="557.90" y2="774.80" stroke="#000" stroke-width="4.2" stroke-dasharray="12.0 4.9" stroke-dashoffset="16.90"/>
<line x1="555.80" y1="772.70" x2="555.80" y2="1199.50" stroke="#000" stroke-width="4.2" stroke-dasharray="12.0 4.9" stroke-dashoffset="4.70"/>
<line x1="465.10" y1="1197.40" x2="557.90" y2="1197.40" stroke="#000" stroke-width="4.2" stroke-dasharray="12.0 4.9" stroke-dashoffset="14.30"/>
<line x1="467.20" y1="772.70" x2="467.20" y2="1199.50" stroke="#000" stroke-width="4.2" stroke-dasharray="12.0 4.9" stroke-dashoffset="8.60"/>
<line x1="575.10" y1="774.80" x2="667.30" y2="774.80" stroke="#000" stroke-width="4.2" stroke-dasharray="12.0 4.9" stroke-dashoffset="0.00"/>
<line x1="665.20" y1="772.70" x2="665.20" y2="1199.50" stroke="#000" stroke-width="4.2" stroke-dasharray="12.0 4.9" stroke-dashoffset="4.70"/>
<line x1="575.10" y1="1197.40" x2="667.30" y2="1197.40" stroke="#000" stroke-width="4.2" stroke-dasharray="12.0 4.9" stroke-dashoffset="15.10"/>
<line x1="577.20" y1="772.70" x2="577.20" y2="1199.50" stroke="#000" stroke-width="4.2" stroke-dasharray="12.0 4.9" stroke-dashoffset="8.60"/>
<path d="M192.00,718.80 L207.50,718.80 L207.50,755.30 L214.40,755.30 L199.75,770.00 L185.10,755.30 L192.00,755.30 Z" fill="#000" stroke="#000" stroke-width="0.8" stroke-linejoin="round"/>
<path d="M507.90,718.60 L524.00,718.60 L524.00,755.00 L530.60,755.00 L515.85,770.20 L501.10,755.00 L507.90,755.00 Z" fill="#000" stroke="#000" stroke-width="0.8" stroke-linejoin="round"/>
<path d="M619.90,718.60 L635.70,718.60 L635.70,755.00 L642.30,755.00 L627.55,770.20 L612.80,755.00 L619.90,755.00 Z" fill="#000" stroke="#000" stroke-width="0.8" stroke-linejoin="round"/>
<rect x="674.90" y="780.40" width="31.70" height="16.60" fill="#fff" stroke="#111" stroke-width="2" rx="2"/>
<line x1="674.90" y1="786.50" x2="706.60" y2="786.50" stroke="#222" stroke-width="1.9" />
<line x1="674.90" y1="792.60" x2="706.60" y2="792.60" stroke="#222" stroke-width="1.9" />
<rect x="674.90" y="814.90" width="31.70" height="16.40" fill="url(#hLB)" stroke="#222" stroke-width="1.9" rx="2"/>
<rect x="673.90" y="848.80" width="33.70" height="17.90" fill="#000" rx="1.5"/>
<text x="724.20" y="796.40" font-size="25.5" font-weight="normal" textLength="31.65" lengthAdjust="spacingAndGlyphs">0.1</text>
<text x="724.11" y="830.50" font-size="25.5" font-weight="normal" textLength="35.23" lengthAdjust="spacingAndGlyphs">0.5</text>
<text x="724.35" y="864.50" font-size="25.5" font-weight="normal" textLength="34.24" lengthAdjust="spacingAndGlyphs">1.0</text>
<text x="763.91" y="795.80" font-size="29.5" font-weight="normal" textLength="28.49" lengthAdjust="spacingAndGlyphs" style="font-family:&quot;Liberation Serif&quot;,serif" stroke="#000" stroke-width="0.6">µg</text>
<text x="763.91" y="827.30" font-size="29.5" font-weight="normal" textLength="28.49" lengthAdjust="spacingAndGlyphs" style="font-family:&quot;Liberation Serif&quot;,serif" stroke="#000" stroke-width="0.6">µg</text>
<text x="763.91" y="855.80" font-size="29.5" font-weight="normal" textLength="28.49" lengthAdjust="spacingAndGlyphs" style="font-family:&quot;Liberation Serif&quot;,serif" stroke="#000" stroke-width="0.6">µg</text>
<text x="155.68" y="1232.90" font-size="26" font-weight="normal" textLength="91.94" lengthAdjust="spacingAndGlyphs">Sample</text>
<text x="259.14" y="1232.90" font-size="26" font-weight="normal" textLength="27.99" lengthAdjust="spacingAndGlyphs">as</text>
<text x="295.13" y="1232.90" font-size="26" font-weight="normal" textLength="119.42" lengthAdjust="spacingAndGlyphs">annotated</text>
<text x="426.99" y="1232.90" font-size="26" font-weight="normal" textLength="20.53" lengthAdjust="spacingAndGlyphs">in</text>
<text x="456.56" y="1232.90" font-size="26" font-weight="normal" textLength="89.28" lengthAdjust="spacingAndGlyphs">Figures</text>
<text x="557.71" y="1232.90" font-size="26" font-weight="normal" textLength="32.51" lengthAdjust="spacingAndGlyphs">1&amp;</text>
<text x="597.37" y="1232.90" font-size="26" font-weight="normal" textLength="14.75" lengthAdjust="spacingAndGlyphs">2</text>
<text transform="translate(91.00,1106.31) rotate(-90)" font-size="25" font-weight="normal" textLength="41.82" lengthAdjust="spacingAndGlyphs">Cell</text>
<text transform="translate(91.00,1060.11) rotate(-90)" font-size="25" font-weight="normal" textLength="82.32" lengthAdjust="spacingAndGlyphs">survival</text>
<text transform="translate(91.00,963.08) rotate(-90)" font-size="25" font-weight="normal" textLength="50.62" lengthAdjust="spacingAndGlyphs">(%of</text>
<text transform="translate(91.00,908.90) rotate(-90)" font-size="25" font-weight="normal" textLength="78.57" lengthAdjust="spacingAndGlyphs">vehicel</text>
<text transform="translate(91.00,825.93) rotate(-90)" font-size="25" font-weight="normal" textLength="85.82" lengthAdjust="spacingAndGlyphs">control)</text>
</svg></body></html>
